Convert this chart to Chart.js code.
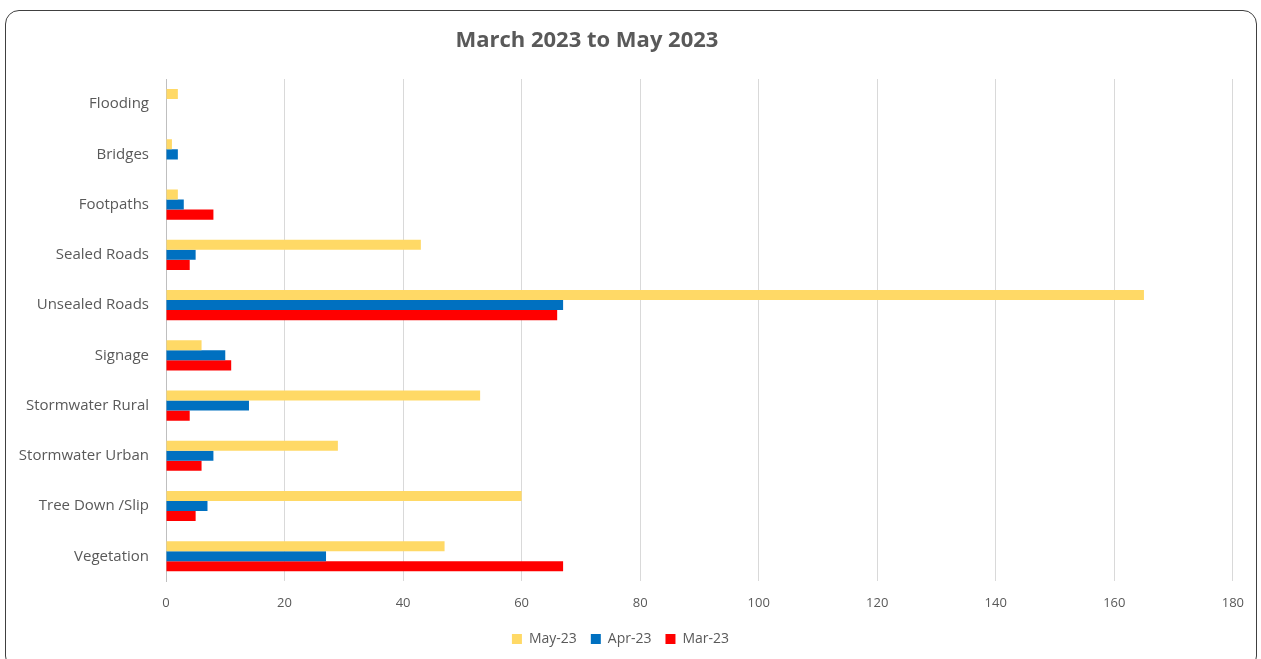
<!DOCTYPE html>
<html>
<head>
<meta charset="utf-8">
<script src="https://cdn.jsdelivr.net/npm/chart.js@4"></script>
<style>
  html, body { margin: 0; padding: 0; background: #fff; overflow: hidden; }
  #frame {
    position: absolute; left: 5px; top: 10px; width: 1252px; height: 660px;
    border: 1.5px solid #404040; border-radius: 14px; box-sizing: border-box;
  }
  #wrap { position: absolute; left: 0; top: 0; width: 1252px; height: 649px; }
</style>
</head>
<body>
<div id="frame"><div id="wrap"><canvas id="Graph"></canvas></div></div>
<script>
// Chart data
var categories = ['Flooding', 'Bridges', 'Footpaths', 'Sealed Roads', 'Unsealed Roads',
  'Signage', 'Stormwater Rural', 'Stormwater Urban', 'Tree Down /Slip', 'Vegetation'];
var may23 = [2, 1, 2, 43, 165, 6, 53, 29, 60, 47];
var apr23 = [0, 2, 3, 5, 67, 10, 14, 8, 7, 27];
var mar23 = [0, 0, 8, 4, 66, 11, 4, 6, 5, 67];
var xTicks = [0, 20, 40, 60, 80, 100, 120, 140, 160, 180];
var chartTitle = 'March 2023 to May 2023';

var fontFam = "'Open Sans', 'Liberation Sans', sans-serif";

// Excel puts the title a bit left of centre, so draw it ourselves
var titlePlugin = {
  id: 'offsetTitle',
  afterDraw: function (chart) {
    var ctx = chart.ctx;
    ctx.save();
    ctx.font = 'bold 22px ' + fontFam;
    ctx.fillStyle = '#595959';
    ctx.textAlign = 'center';
    ctx.textBaseline = 'middle';
    ctx.fillText(chartTitle, chart.width * 0.464, 30);
    ctx.restore();
  }
};

var twoDRep = document.getElementById("Graph").getContext('2d');
var chart = new Chart(twoDRep, {
  type: 'bar',
  data: {
    labels: categories,
    datasets: [
      { label: 'May-23', data: may23, backgroundColor: '#FFD966' },
      { label: 'Apr-23', data: apr23, backgroundColor: '#0070C0' },
      { label: 'Mar-23', data: mar23, backgroundColor: '#FF0000' }
    ]
  },
  options: {
    indexAxis: 'y',
    responsive: true,
    maintainAspectRatio: false,
    animation: false,
    categoryPercentage: 0.6,
    barPercentage: 1.0,
    layout: { padding: { left: 0, right: 23, top: 68, bottom: 4 } },
    plugins: {
      title: { display: false },
      legend: {
        position: 'bottom',
        labels: {
          color: '#595959',
          font: { family: fontFam, size: 14 },
          boxWidth: 10, boxHeight: 10, padding: 14
        }
      },
      tooltip: { enabled: false }
    },
    scales: {
      x: {
        min: 0, max: 180,
        afterBuildTicks: function (axis) {
          axis.ticks = xTicks.map(function (v) { return { value: v }; });
        },
        // wider legend padding eats plot height; give it back here
        afterFit: function (axis) { axis.height -= 7; },
        grid: { color: '#D9D9D9', drawTicks: false },
        border: { display: false },
        ticks: { color: '#595959', font: { family: fontFam, size: 13 }, padding: 14 }
      },
      y: {
        afterFit: function (axis) { axis.width = 160; },
        grid: { display: false, drawTicks: false },
        border: { color: '#BFBFBF', width: 1 },
        ticks: { color: '#595959', font: { family: fontFam, size: 15 }, padding: 17 }
      }
    }
  },
  plugins: [titlePlugin]
});
</script>
</body>
</html>
